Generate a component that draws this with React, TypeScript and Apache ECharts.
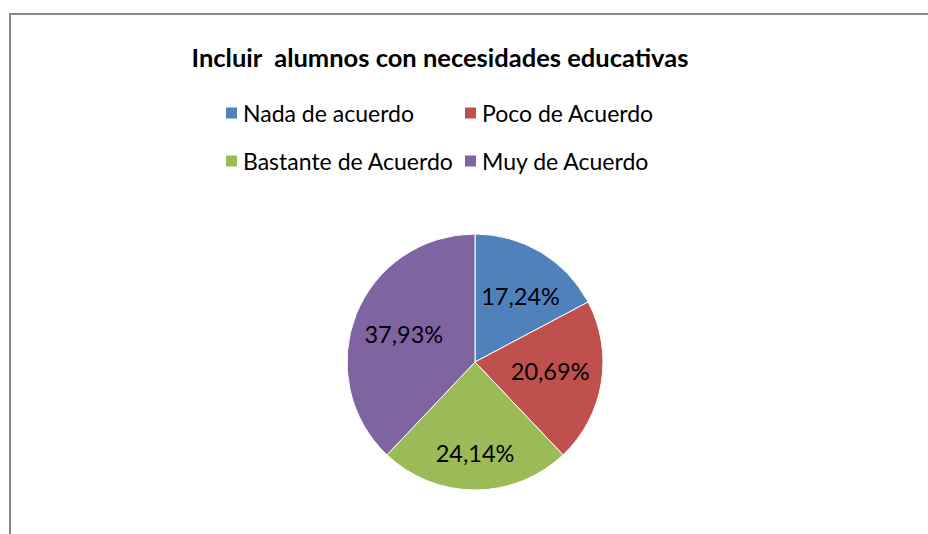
import React, { useEffect, useRef } from "react";
import * as echarts from "echarts";

const categories = ["Nada de acuerdo", "Poco de Acuerdo", "Bastante de Acuerdo", "Muy de Acuerdo"];
const values = [17.24, 20.69, 24.14, 37.93];
const colors = ["#4F81BD", "#C0504D", "#9BBB59", "#8064A2"];
const titleText = "Incluir  alumnos con necesidades educativas";

// label nudges (px) from the default inside position
const labelNudge = [
  [11, -9],
  [9, -2],
  [0, 24],
  [-9, -3],
];

export default function App() {
  const ref = useRef<HTMLDivElement>(null);
  useEffect(() => {
    const chart = echarts.init(ref.current!, null, { renderer: "svg" });
    const font = "Lato";
    const legendCommon = {
      orient: "vertical",
      top: 101,
      padding: 0,
      icon: "rect",
      itemWidth: 13,
      itemHeight: 13,
      itemGap: 24,
      textStyle: { fontFamily: font, fontSize: 23, color: "#000", lineHeight: 24 },
    };
    chart.setOption({
      animation: false,
      backgroundColor: "#ffffff",
      title: {
        text: titleText,
        left: 440,
        top: 44,
        padding: 0,
        textAlign: "center",
        textStyle: { fontFamily: font, fontWeight: "bold", fontSize: 25.5, color: "#000" },
      },
      legend: [
        { ...legendCommon, left: 224, data: [categories[0], categories[2]] },
        { ...legendCommon, left: 463, data: [categories[1], categories[3]] },
      ],
      graphic: [
        {
          type: "rect",
          shape: { x: 10, y: 14, width: 1000, height: 1000 },
          style: { fill: "none", stroke: "#888888", lineWidth: 2 },
          silent: true,
        },
      ],
      series: [
        {
          type: "pie",
          center: [475, 362],
          radius: [0, 128],
          startAngle: 90,
          clockwise: true,
          color: colors,
          itemStyle: { borderColor: "#ffffff", borderWidth: 1 },
          label: {
            show: true,
            position: "inside",
            formatter: (p: any) => p.value.toFixed(2).replace(".", ",") + "%",
            fontFamily: font,
            fontSize: 23.5,
            color: "#000",
          },
          labelLayout: (p: any) => {
            const n = labelNudge[p.dataIndex];
            return { dx: n[0], dy: n[1] };
          },
          emphasis: { disabled: true },
          data: categories.map((c, i) => ({ name: c, value: values[i] })),
        },
      ],
    });
    return () => chart.dispose();
  }, []);
  return <div ref={ref} style={{ position: "absolute", left: 0, top: 0, width: 928, height: 534 }} />;
}
